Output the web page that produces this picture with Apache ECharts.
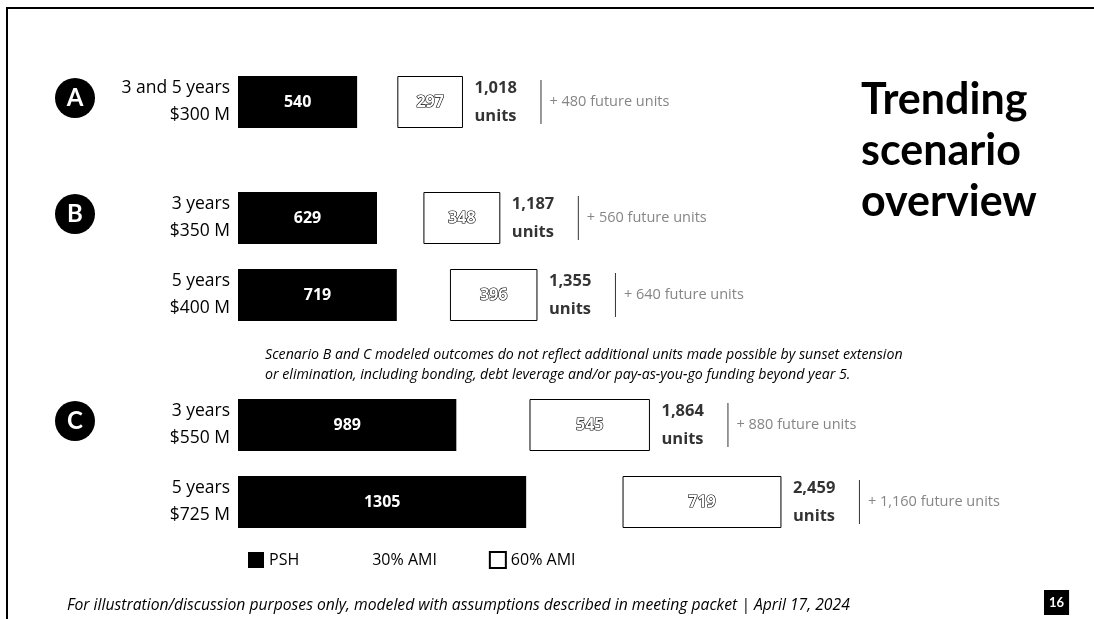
<!DOCTYPE html>
<html>
<head>
<meta charset="utf-8">
<script src="https://cdn.jsdelivr.net/npm/echarts@6/dist/echarts.min.js"></script>
<style>
  html, body { margin: 0; padding: 0; background: #fff; }
  #chart { width: 1094px; height: 619px; }
</style>
</head>
<body>
<div id="chart"></div>
<script>
// Scenario rows: funding window and amount
const rowLabels = ['3 and 5 years\n$300 M', '3 years\n$350 M', '5 years\n$400 M', '3 years\n$550 M', '5 years\n$725 M'];
// Units by income target
const pshUnits = [540, 629, 719, 989, 1305];
const ami30Units = [181, 210, 240, 330, 435];
const ami60Units = [297, 348, 396, 545, 719];
const totalUnits = [1018, 1187, 1355, 1864, 2459];
const futureUnits = ['+ 480 future units', '+ 560 future units', '+ 640 future units', '+ 880 future units', '+ 1,160 future units'];
// Scenario badges and the row each one sits beside
const scenarioLetters = ['A', 'B', 'C'];
const scenarioRows = [0, 1, 3];

// Layout
const FONT = '"Open Sans", Lato, sans-serif';
const TITLE_FONT = 'Lato, "Open Sans", sans-serif';
const rowTops = [76, 192, 269, 399, 476];
const ROW_H = 52;
const PLOT_LEFT = 238;
const PLOT_W = 663;
const X_MAX = 3000;

const fmt = v => v.toLocaleString('en-US');

const grid = [], xAxis = [], yAxis = [], series = [];
rowLabels.forEach((lab, i) => {
  grid.push({ left: PLOT_LEFT, width: PLOT_W, top: rowTops[i], height: ROW_H });
  xAxis.push({ type: 'value', gridIndex: i, min: 0, max: X_MAX, show: false });
  yAxis.push({
    type: 'category', gridIndex: i, data: [lab],
    axisLine: { show: false }, axisTick: { show: false },
    axisLabel: { fontSize: 17.5, lineHeight: 27, color: '#000', margin: 8, padding: [6, 0, 0, 0], fontFamily: FONT }
  });
  const common = { type: 'bar', xAxisIndex: i, yAxisIndex: i, stack: 'row' + i, barWidth: ROW_H, silent: true };
  series.push(Object.assign({}, common, {
    name: 'PSH', data: [pshUnits[i]],
    itemStyle: { color: '#000' },
    label: { show: true, position: 'inside', color: '#fff', fontWeight: 'bold', fontSize: 16, fontFamily: FONT }
  }));
  series.push(Object.assign({}, common, {
    name: '30% AMI', data: [ami30Units[i]],
    itemStyle: { color: '#fff' },
    label: { show: false }
  }));
  series.push(Object.assign({}, common, {
    name: '60% AMI', data: [ami60Units[i]],
    itemStyle: { color: '#fff', borderColor: '#000', borderWidth: 1 },
    label: {
      show: true, position: 'inside', color: '#fff', fontWeight: 'bold', fontSize: 16, fontFamily: FONT,
      textBorderColor: '#000', textBorderWidth: 1.2
    }
  }));
  // Totals to the right of each stack
  series.push({
    type: 'scatter', name: 'total', xAxisIndex: i, yAxisIndex: i, silent: true,
    data: [[totalUnits[i], 0]], symbolSize: 1, itemStyle: { color: 'rgba(0,0,0,0)' },
    label: {
      show: true, position: 'right', distance: 11, align: 'left', color: '#000',
      formatter: p => '{n|' + fmt(p.value[0]) + '}\n{n|units}',
      rich: { n: { fontSize: 16.5, fontWeight: 'bold', lineHeight: 28, color: '#000', fontFamily: FONT } }
    }
  });
  // Separator and future units note
  series.push({
    type: 'scatter', name: 'future', xAxisIndex: i, yAxisIndex: i, silent: true,
    data: [[totalUnits[i], 0]], symbolSize: 1, itemStyle: { color: 'rgba(0,0,0,0)' },
    label: {
      show: true, position: 'right', distance: 77, align: 'left', color: '#555',
      formatter: () => '{s|}{f|' + futureUnits[i] + '}',
      rich: {
        s: { width: 1, height: 44, backgroundColor: '#000' },
        f: { fontSize: 14.5, color: '#666', padding: [0, 0, 0, 8], fontFamily: FONT }
      }
    }
  });
});

// Scenario badges beside their first row
const badges = scenarioLetters.map((letter, k) => ({
  type: 'group',
  left: 55, top: rowTops[scenarioRows[k]] + ROW_H / 2 - 24,
  children: [
    { type: 'circle', shape: { cx: 20, cy: 20, r: 20 }, style: { fill: '#000' } },
    { type: 'text', x: 20, y: 20, style: { text: letter, fill: '#fff', font: 'bold 24px ' + TITLE_FONT, textAlign: 'center', textVerticalAlign: 'middle' } }
  ]
}));

const option = {
  backgroundColor: '#fff',
  animation: false,
  title: [
    { text: 'Trending\nscenario\noverview', left: 856, top: 70,
      textStyle: { fontSize: 43, fontWeight: 'bold', lineHeight: 51, color: '#000', fontFamily: TITLE_FONT } },
    { text: 'Scenario B and C modeled outcomes do not reflect additional units made possible by sunset extension\nor elimination, including bonding, debt leverage and/or pay-as-you-go funding beyond year 5.',
      left: 260, top: 340,
      textStyle: { fontSize: 14.2, fontStyle: 'italic', fontWeight: 'normal', lineHeight: 20, color: '#000', fontFamily: FONT } },
    { text: 'For illustration/discussion purposes only, modeled with assumptions described in meeting packet | April 17, 2024',
      left: 62, top: 593,
      textStyle: { fontSize: 15.7, fontStyle: 'italic', fontWeight: 'normal', color: '#000', fontFamily: FONT } },
    { text: '16', left: 1044, top: 590, backgroundColor: '#000', padding: [6, 5, 6, 5],
      textStyle: { fontSize: 13, fontWeight: 'bold', color: '#fff', fontFamily: TITLE_FONT } }
  ],
  legend: {
    data: ['PSH', '30% AMI', '60% AMI'],
    left: 243, top: 546, itemWidth: 16, itemHeight: 16, itemGap: 52, icon: 'rect',
    selectedMode: false,
    textStyle: { fontSize: 16, color: '#000', fontFamily: FONT }
  },
  grid, xAxis, yAxis, series,
  graphic: [
    { type: 'polyline', shape: { points: [[7, 619], [7, 8], [1094, 8]] }, style: { stroke: '#000', lineWidth: 2, fill: null } }
  ].concat(badges)
};

const chart = echarts.init(document.getElementById('chart'), null, { renderer: 'canvas' });
chart.setOption(option);
</script>
</body>
</html>
